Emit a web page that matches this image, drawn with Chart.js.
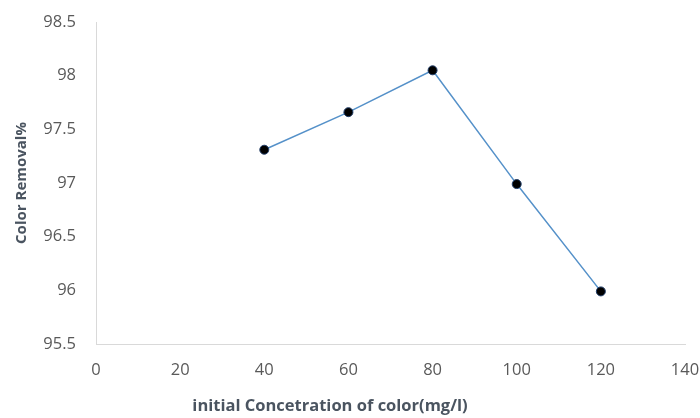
<!DOCTYPE html>
<html>
<head>
<meta charset="utf-8">
<script src="https://cdn.jsdelivr.net/npm/chart.js@4.4.0/dist/chart.umd.min.js"></script>
<style>
  html, body { margin: 0; padding: 0; background: #fff; }
  #wrap { width: 700px; height: 418px; }
</style>
</head>
<body>
<div id="wrap"><canvas id="chart" width="700" height="418"></canvas></div>
<script>
// values
const concentrations = [40, 60, 80, 100, 120];
const colorRemoval = [97.31, 97.66, 98.05, 96.99, 95.99];

const xTitle = 'initial Concetration of color(mg/l)';
const yTitle = 'Color Removal%';

const textColor = '#595959';
const titleColor = '#4a5460';
const axisColor = '#d9d9d9';
const fontFamily = '"Open Sans", "DejaVu Sans", sans-serif';

const points = concentrations.map((x, i) => ({ x: x, y: colorRemoval[i] }));

// the x title in the original sits left of the plot centre, so draw it ourselves
const xTitlePlugin = {
    id: 'xTitle',
    afterDraw(chart) {
        const ctx = chart.ctx;
        ctx.save();
        ctx.font = 'bold 16.5px ' + fontFamily;
        ctx.fillStyle = titleColor;
        ctx.textAlign = 'center';
        ctx.textBaseline = 'middle';
        ctx.fillText(xTitle, 330, 406);
        ctx.restore();
    }
};

new Chart(document.getElementById('chart'), {
    type: 'line',
    data: {
        datasets: [{
            data: points,
            borderColor: '#5591c9',
            borderWidth: 1.5,
            pointRadius: 4.5,
            pointBorderWidth: 1,
            pointBackgroundColor: '#000000',
            pointBorderColor: '#1f3b66',
            tension: 0,
            fill: false
        }]
    },
    plugins: [xTitlePlugin],
    options: {
        responsive: false,
        animation: false,
        layout: { padding: { top: 22, right: 15, left: 0, bottom: 0 } },
        plugins: {
            legend: { display: false },
            tooltip: { enabled: false }
        },
        scales: {
            x: {
                type: 'linear',
                min: 0,
                max: 140,
                grid: { display: false, drawTicks: false },
                border: { display: true, color: axisColor, width: 1 },
                ticks: {
                    stepSize: 20,
                    padding: 16,
                    color: textColor,
                    font: { family: fontFamily, size: 16.5 }
                },
                title: { display: false },
                afterFit: (scale) => {
                    scale.height = 74;
                    // let the layout padding decide the plot edges
                    scale.paddingLeft = 0;
                    scale.paddingRight = 0;
                }
            },
            y: {
                min: 95.5,
                max: 98.5,
                grid: { display: false, drawTicks: false },
                border: { display: true, color: axisColor, width: 1 },
                ticks: {
                    stepSize: 0.5,
                    padding: 20,
                    color: textColor,
                    font: { family: fontFamily, size: 16.5 },
                    callback: (v) => String(Number(v.toFixed(1)))
                },
                title: {
                    display: true,
                    text: yTitle,
                    color: titleColor,
                    font: { family: fontFamily, size: 15, weight: 'bold' },
                    padding: { top: 13, bottom: 0 }
                },
                afterFit: (scale) => {
                    scale.width = 96;
                    scale.paddingTop = 0;
                    scale.paddingBottom = 0;
                }
            }
        }
    }
});
</script>
</body>
</html>
